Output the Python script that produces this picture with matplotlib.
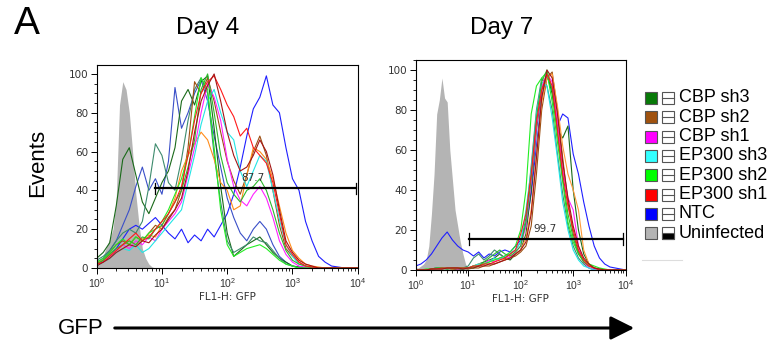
import numpy as np
import matplotlib
matplotlib.use("Agg")
import matplotlib.pyplot as plt
from matplotlib.patches import Rectangle
from matplotlib.ticker import MultipleLocator, LogLocator, NullFormatter

plt.rcParams['font.family'] = ['Liberation Sans', 'DejaVu Sans']
plt.rcParams['mathtext.fontset'] = 'dejavusans'

# histogram channels, log10(FL1-H)
log_bins = [0.0, 0.1, 0.2, 0.3, 0.4, 0.5, 0.6, 0.7, 0.8, 0.9,
            1.0, 1.1, 1.2, 1.3, 1.4, 1.5, 1.6, 1.7, 1.8, 1.9,
            2.0, 2.1, 2.2, 2.3, 2.4, 2.5, 2.6, 2.7, 2.8, 2.9,
            3.0, 3.1, 3.2, 3.3, 3.4, 3.5, 3.6, 3.7, 3.8, 3.9, 4.0]

# ---- Day 4 ----
d4_gray_x = [0.0, 0.05, 0.1, 0.15, 0.2, 0.25, 0.3, 0.35, 0.4, 0.45, 0.5,
             0.55, 0.6, 0.65, 0.7, 0.75, 0.8, 0.85, 0.9]
d4_gray = [1, 2, 6, 11, 15, 20, 36, 84, 96, 92, 80, 60, 38, 22, 10, 5, 2, 0.5, 0]

d4_ntc = [2, 4, 7, 10, 15, 20, 22, 20, 23, 26, 22, 18, 15, 20, 13, 17, 14, 20, 16, 22,
          28, 38, 52, 68, 82, 88, 99, 84, 80, 62, 46, 40, 24, 14, 6, 3, 1, 0.5, 0, 0, 0]
d4_ntc2 = [3, 5, 9, 14, 22, 30, 42, 52, 40, 46, 38, 55, 93, 72, 80, 90, 97, 86, 68, 52,
           36, 26, 18, 14, 20, 24, 20, 12, 6, 3, 1, 0.5, 0, 0, 0, 0, 0, 0, 0, 0, 0]
d4_cbp3 = [5, 8, 13, 32, 56, 62, 48, 34, 28, 36, 44, 50, 62, 86, 92, 84, 96, 99, 72, 42,
           18, 6, 9, 12, 14, 16, 12, 8, 5, 3, 1, 0.5, 0, 0, 0, 0, 0, 0, 0, 0, 0]
d4_cbp3b = [4, 6, 9, 14, 18, 20, 18, 24, 42, 64, 58, 44, 40, 56, 76, 92, 98, 90, 58, 34,
            14, 8, 10, 12, 16, 14, 13, 9, 5, 2, 1, 0, 0, 0, 0, 0, 0, 0, 0, 0, 0]
d4_cbp2 = [2, 4, 8, 12, 14, 12, 16, 14, 18, 22, 20, 26, 30, 40, 62, 96, 90, 98, 86, 70,
           55, 45, 38, 48, 60, 68, 58, 40, 22, 10, 6, 3, 1, 0.5, 0, 0, 0, 0, 0, 0, 0]
d4_cbp2b = [3, 4, 7, 9, 12, 14, 12, 15, 17, 16, 22, 28, 36, 50, 58, 64, 70, 66, 56, 44,
            40, 30, 32, 48, 62, 60, 56, 46, 32, 18, 9, 5, 2, 1, 0.5, 0, 0, 0, 0, 0, 0]
d4_cbp1 = [2, 3, 6, 9, 12, 10, 14, 12, 16, 14, 20, 24, 28, 34, 48, 62, 80, 95, 88, 76,
           56, 42, 35, 32, 38, 42, 36, 26, 14, 7, 3, 1, 0.5, 0, 0, 0, 0, 0, 0, 0, 0]
d4_ep3 = [1, 3, 5, 8, 10, 9, 12, 8, 10, 14, 18, 22, 26, 30, 44, 58, 74, 86, 92, 80,
          70, 66, 50, 42, 50, 58, 55, 40, 25, 12, 6, 2, 1, 0, 0, 0, 0, 0, 0, 0, 0]
d4_ep2 = [3, 5, 8, 12, 15, 12, 16, 14, 18, 20, 24, 30, 38, 46, 58, 78, 98, 92, 62, 30,
          12, 6, 8, 10, 11, 12, 10, 7, 4, 2, 1, 0, 0, 0, 0, 0, 0, 0, 0, 0, 0]
d4_ep2b = [2, 4, 7, 10, 12, 14, 12, 16, 15, 20, 22, 28, 34, 40, 52, 66, 92, 100, 80, 58,
           44, 38, 34, 40, 42, 46, 40, 30, 18, 9, 4, 2, 1, 0, 0, 0, 0, 0, 0, 0, 0]
d4_ep1 = [2, 3, 6, 9, 12, 15, 18, 14, 16, 20, 24, 28, 34, 42, 58, 76, 90, 96, 99, 92,
          84, 78, 68, 72, 62, 58, 54, 44, 28, 12, 7, 3, 1, 0.5, 0, 0, 0, 0, 0, 0, 0]
d4_ep1b = [1, 3, 5, 8, 10, 12, 11, 14, 13, 17, 20, 25, 30, 36, 50, 70, 86, 94, 100, 86,
           70, 58, 50, 52, 58, 66, 60, 48, 30, 14, 8, 4, 2, 1, 0, 0, 0, 0, 0, 0, 0]

# ---- Day 7 ----
d7_gray_x = [0.0, 0.05, 0.1, 0.15, 0.2, 0.25, 0.3, 0.35, 0.4, 0.45, 0.5,
             0.55, 0.6, 0.65, 0.7, 0.75, 0.8, 0.85, 0.9, 0.95, 1.0]
d7_gray = [1, 1, 2, 3, 5, 12, 28, 48, 78, 85, 96, 86, 84, 60, 45, 30, 22, 14, 8, 3, 1]

d7_ntc = [2, 3, 5, 8, 12, 16, 19, 15, 12, 10, 9, 7, 9, 6, 8, 7, 9, 10, 9, 12,
          15, 22, 38, 62, 86, 97, 90, 72, 78, 76, 58, 48, 34, 22, 12, 6, 3, 1.5, 1, 0.5, 0]
d7_cbp3 = [0, 0, 0, 0.5, 1, 1, 1, 0.5, 0.5, 0.5, 1, 2, 3, 4, 5, 6, 8, 6, 5, 8,
           10, 18, 40, 70, 90, 98, 88, 70, 66, 72, 40, 20, 8, 3, 1, 0, 0, 0, 0, 0, 0]
d7_cbp3b = [0, 0, 0, 0.5, 1, 1, 0.5, 1, 1, 1, 2, 6, 8, 5, 7, 10, 8, 6, 8, 10,
            14, 26, 52, 80, 96, 92, 80, 58, 38, 22, 12, 6, 3, 1, 0, 0, 0, 0, 0, 0, 0]
d7_cbp2 = [0, 0, 0, 0, 0.5, 0.5, 1, 0.5, 0.5, 1, 0.5, 1, 1, 2, 2, 3, 4, 5, 6, 7,
           9, 12, 22, 48, 80, 96, 99, 80, 56, 34, 18, 9, 4, 2, 1, 0, 0, 0, 0, 0, 0]
d7_cbp2b = [0, 0, 0, 0.5, 0.5, 1, 1, 0.5, 1, 1, 1, 2, 3, 3, 4, 5, 6, 5, 7, 8,
            10, 16, 30, 58, 84, 96, 98, 82, 62, 48, 40, 30, 10, 3, 1, 0.5, 0, 0, 0, 0, 0]
d7_cbp1 = [0, 0, 0, 0.5, 1, 1, 1, 1, 0.5, 1, 1, 2, 2, 3, 5, 4, 6, 7, 6, 9,
           12, 22, 44, 72, 92, 98, 94, 74, 50, 36, 30, 12, 4, 1, 0.5, 0, 0, 0, 0, 0, 0]
d7_ep3 = [0, 0, 0, 0.5, 0.5, 1, 1, 1, 1, 1, 1, 2, 3, 3, 4, 6, 5, 7, 8, 10,
          14, 30, 50, 78, 94, 92, 76, 56, 34, 20, 10, 5, 2, 1, 0, 0, 0, 0, 0, 0, 0]
d7_ep2 = [0, 0, 0.5, 0.5, 1, 1, 1, 1, 1, 1, 1, 2, 2, 3, 4, 5, 6, 7, 9, 12,
          20, 40, 78, 92, 96, 99, 84, 64, 44, 24, 14, 8, 5, 3, 2, 1, 0.5, 0, 0, 0, 0]
d7_ep2b = [0, 0, 0, 0.5, 1, 1, 0.5, 1, 1, 1, 1, 1, 2, 4, 6, 8, 10, 8, 7, 9,
           12, 24, 46, 76, 94, 100, 90, 68, 46, 28, 16, 8, 4, 2, 1, 0.5, 0, 0, 0, 0, 0]
d7_ep1 = [0, 0, 0, 0.5, 0.5, 1, 1, 1, 1, 1, 1, 2, 2, 3, 3, 4, 5, 6, 8, 10,
          18, 28, 48, 74, 90, 98, 92, 70, 48, 32, 20, 10, 5, 2, 1, 0, 0, 0, 0, 0, 0]
d7_ep1b = [0, 0, 0, 0.5, 0.5, 0.5, 1, 1, 1, 0.5, 1, 1, 2, 2, 3, 3, 4, 5, 6, 8,
           10, 14, 28, 56, 86, 100, 96, 78, 54, 36, 22, 12, 6, 3, 1, 0.5, 0, 0, 0, 0, 0]

gate4 = (7.8, 9300, 41, "87.7", 250, 44)
gate7 = (10.5, 8700, 15.5, "99.7", 290, 18)

legend_labels = ["CBP sh3", "CBP sh2", "CBP sh1", "EP300 sh3", "EP300 sh2",
                 "EP300 sh1", "NTC", "Uninfected"]
legend_colors = ["#087a08", "#a0520f", "#ff00ff", "#33ffff", "#00ff00",
                 "#ff0000", "#0000ff", "#b4b4b4"]

day4_lines = [
    (d4_ntc, "#1f1fff"), (d4_ntc2, "#3a4fc8"), (d4_cbp3, "#1a6a1a"), (d4_cbp3b, "#3d8b6d"),
    (d4_cbp2, "#9c4f12"), (d4_cbp2b, "#ff8c1a"), (d4_cbp1, "#ff22ff"), (d4_ep3, "#22e5e5"),
    (d4_ep2, "#22ee22"), (d4_ep2b, "#2db82d"), (d4_ep1, "#ff1a1a"), (d4_ep1b, "#a31515"),
]
day7_lines = [
    (d7_ntc, "#1f1fff"), (d7_cbp3, "#1a6a1a"), (d7_cbp3b, "#3d8b6d"), (d7_cbp2, "#9c4f12"),
    (d7_cbp2b, "#ff9a3a"), (d7_cbp1, "#ff22ff"), (d7_ep3, "#22e5e5"), (d7_ep2, "#22ee22"),
    (d7_ep2b, "#2db82d"), (d7_ep1, "#ff1a1a"), (d7_ep1b, "#a31515"),
]


def flow_panel(ax, gray_x, gray_y, lines, gate, ytop):
    ax.fill_between(10 ** np.array(gray_x), gray_y, color="#b4b4b4", lw=0, zorder=1)
    xs = 10 ** np.array(log_bins)
    for vals, col in lines:
        ax.plot(xs, vals, color=col, lw=0.8, zorder=2)
    x0, x1, gy, txt, tx, ty = gate
    ax.plot([x0, x1], [gy, gy], color="black", lw=1.6, zorder=3)
    for xe in (x0, x1):
        ax.plot([xe, xe], [gy - 3, gy + 3], color="black", lw=0.9, zorder=3)
    ax.text(tx, ty, txt, fontsize=7.5, color="#333333", ha="center", va="bottom",
            family="DejaVu Sans", zorder=4)
    ax.set_xscale("log")
    ax.set_xlim(1, 1e4)
    ax.set_ylim(0, ytop)
    ax.yaxis.set_major_locator(MultipleLocator(20))
    ax.yaxis.set_minor_locator(MultipleLocator(5))
    ax.xaxis.set_major_locator(LogLocator(base=10))
    ax.xaxis.set_minor_locator(LogLocator(base=10, subs=np.arange(2, 10)))
    ax.xaxis.set_minor_formatter(NullFormatter())
    ax.tick_params(which="major", direction="out", length=4, width=0.7,
                   labelsize=7.5, labelcolor="#333333", pad=2)
    ax.tick_params(which="minor", direction="out", length=2, width=0.6)
    for lab in ax.get_yticklabels():
        lab.set_family("DejaVu Sans")
    for s in ax.spines.values():
        s.set_linewidth(0.8)
    ax.set_xlabel("FL1-H: GFP", fontsize=7.5, color="#333333", labelpad=1,
                  family="DejaVu Sans")


fig = plt.figure(figsize=(7.84, 3.45), dpi=100)
ax4 = fig.add_axes([0.1233, 0.2232, 0.3330, 0.5884])
ax7 = fig.add_axes([0.5302, 0.2174, 0.2679, 0.6087])
flow_panel(ax4, d4_gray_x, d4_gray, day4_lines, gate4, 104.6)
flow_panel(ax7, d7_gray_x, d7_gray, day7_lines, gate7, 105)

# overlay in pixel coordinates for labels, arrow and legend
ov = fig.add_axes([0, 0, 1, 1])
ov.set_xlim(0, 784)
ov.set_ylim(345, 0)
ov.axis("off")
ov.patch.set_alpha(0)

ov.text(14, 24, "A", fontsize=28, ha="left", va="center")
ov.text(208, 28, "Day 4", fontsize=17.5, ha="center", va="center")
ov.text(502, 28, "Day 7", fontsize=17.5, ha="center", va="center")
ov.text(38, 163, "Events", fontsize=16, rotation=90, ha="center", va="center")
ov.text(58, 328, "GFP", fontsize=16, ha="left", va="center")
ov.annotate("", xy=(637, 328), xytext=(112, 328),
            arrowprops=dict(arrowstyle="-|>,head_length=0.9,head_width=0.45",
                            lw=2.2, color="black", mutation_scale=16))

row_y = 98
for lab, col in zip(legend_labels, legend_colors):
    ov.add_patch(Rectangle((645, row_y - 6), 12, 12, facecolor=col,
                           edgecolor="#555555", lw=0.8))
    ov.add_patch(Rectangle((662, row_y - 6), 12, 12, facecolor="white",
                           edgecolor="#555555", lw=0.8))
    if lab == "Uninfected":
        ov.add_patch(Rectangle((662, row_y), 12, 6, facecolor="black",
                               edgecolor="#555555", lw=0.8))
    else:
        ov.plot([662, 674], [row_y, row_y], color="#555555", lw=0.8)
    ov.text(679, row_y, lab, fontsize=13, ha="left", va="center")
    row_y += 19.3
ov.plot([642, 682], [260, 260], color="#dddddd", lw=0.8)

fig.savefig("out.png", dpi=100)
